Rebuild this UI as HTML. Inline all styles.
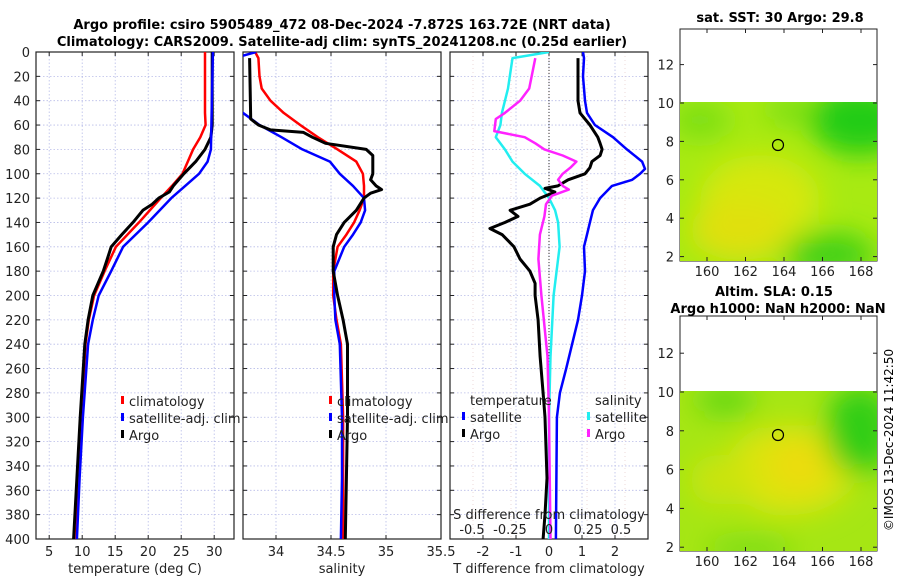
<!DOCTYPE html>
<html><head><meta charset="utf-8"><style>
html,body{margin:0;padding:0;background:#fff;}
svg{display:block;font-family:"DejaVu Sans","Liberation Sans",sans-serif;}
</style></head><body>
<svg id="fig" width="900" height="580" viewBox="0 0 900 580" xmlns="http://www.w3.org/2000/svg">
<defs>
<filter id="blur1" x="-50%" y="-50%" width="200%" height="200%"><feGaussianBlur stdDeviation="14"/></filter>
<clipPath id="clipMap1"><rect x="680" y="102" width="197" height="159"/></clipPath>
<clipPath id="clipMap2"><rect x="680" y="391" width="197" height="160"/></clipPath>
<clipPath id="clipP1"><rect x="36" y="52" width="198" height="487"/></clipPath>
<clipPath id="clipP2"><rect x="243" y="52" width="198" height="487"/></clipPath>
<clipPath id="clipP3"><rect x="450" y="52" width="198" height="487"/></clipPath>
</defs>
<text x="342" y="29" text-anchor="middle" font-size="13" font-weight="bold">Argo profile: csiro 5905489_472 08-Dec-2024 -7.872S 163.72E (NRT data)</text>
<text x="342" y="46" text-anchor="middle" font-size="13" font-weight="bold">Climatology: CARS2009. Satellite-adj clim: synTS_20241208.nc (0.25d earlier)</text>

<g>
<rect x="680" y="29" width="197" height="232" fill="#fff" stroke="#222"/>
<g clip-path="url(#clipMap1)">
<rect x="680" y="102" width="197" height="159" fill="#a8ea12"/>
<g filter="url(#blur1)">
<ellipse cx="760" cy="200" rx="60" ry="45" fill="#d6e80e"/>
<ellipse cx="740" cy="230" rx="50" ry="30" fill="#e0e00c"/>
<ellipse cx="860" cy="120" rx="50" ry="35" fill="#20cc18"/>
<ellipse cx="830" cy="255" rx="45" ry="22" fill="#40d018"/>
<ellipse cx="700" cy="120" rx="30" ry="18" fill="#78de16"/>
<ellipse cx="790" cy="110" rx="25" ry="12" fill="#70dc18"/>
</g>
</g>
<circle cx="778" cy="145" r="5.5" fill="none" stroke="#000" stroke-width="1.2"/>
<text x="780" y="22" text-anchor="middle" font-size="13" font-weight="bold">sat. SST: 30 Argo: 29.8</text>
</g>
<g>
<rect x="680" y="316" width="197" height="235" fill="#fff" stroke="#222"/>
<g clip-path="url(#clipMap2)">
<rect x="680" y="391" width="197" height="160" fill="#a6e614"/>
<g filter="url(#blur1)">
<ellipse cx="790" cy="470" rx="65" ry="45" fill="#dce40c"/>
<ellipse cx="800" cy="465" rx="30" ry="25" fill="#ecdc0a"/>
<ellipse cx="720" cy="480" rx="30" ry="25" fill="#cae410"/>
<ellipse cx="725" cy="400" rx="30" ry="14" fill="#5cd618"/>
<ellipse cx="860" cy="430" rx="35" ry="45" fill="#30ce18"/>
<ellipse cx="750" cy="550" rx="45" ry="10" fill="#70da16"/>
</g>
</g>
<circle cx="778" cy="435" r="5.5" fill="none" stroke="#000" stroke-width="1.2"/>
<text x="715" y="296" font-size="13" font-weight="bold">Altim. SLA: 0.15</text>
<text x="778" y="313" text-anchor="middle" font-size="13" font-weight="bold">Argo h1000: NaN h2000: NaN</text>
</g>
<text transform="translate(893,440) rotate(-90)" text-anchor="middle" font-size="12">©IMOS 13-Dec-2024 11:42:50</text>
<g id="dyn"></g>
</svg>
<script>
const depthTicks = [0,20,40,60,80,100,120,140,160,180,200,220,240,260,280,300,320,340,360,380,400];
const tempTicks = [5,10,15,20,25,30];
const salTicks = [34,34.5,35,35.5];
const tdiffTicks = [-2,-1,0,1,2];
const sdiffTickLabels = ["-0.5","-0.25","0","0.25","0.5"];
const sdiffTicks = [-0.5,-0.25,0,0.25,0.5];

const tClimDepth = [0,50,60,70,80,90,100,110,120,140,160,180,200,220,240,300,350,400];
const tClim = [28.6,28.6,28.7,27.9,26.8,26.0,25.2,23.6,21.9,18.6,15.1,13.4,11.8,11.0,10.5,9.9,9.5,9.1];
const tSatDepth = [0,80,90,100,110,120,140,160,180,200,220,240,300,350,400];
const tSat = [29.8,29.5,29.0,27.7,25.6,23.5,20.0,16.2,14.4,12.5,11.6,10.9,10.1,9.6,9.2];
const tArgoDepth = [0,60,70,80,90,100,110,115,120,125,130,140,150,160,170,180,200,220,240,300,350,400];
const tArgo = [29.7,29.7,29.5,28.6,27.2,25.4,23.8,23.2,21.6,20.6,19.2,17.7,16.0,14.4,13.8,13.2,11.6,10.9,10.4,9.7,9.2,8.7];

const sClimDepth = [0,5,20,30,40,50,60,70,80,90,100,110,120,130,140,150,160,180,200,220,240,300,350,400];
const sClim = [33.81,33.84,33.85,33.87,33.95,34.07,34.22,34.38,34.56,34.73,34.79,34.80,34.80,34.76,34.71,34.64,34.56,34.52,34.52,34.55,34.59,34.61,34.61,34.61];
const sSatDepth = [0,3,10,45,50,60,70,80,90,100,110,120,130,140,150,160,180,200,220,240,300,350,400];
const sSat = [33.82,33.70,33.55,33.62,33.70,33.85,34.05,34.24,34.49,34.58,34.70,34.80,34.81,34.77,34.70,34.62,34.53,34.53,34.54,34.58,34.60,34.60,34.59];
const sArgoDepth = [5,55,60,64,66,70,75,80,85,90,100,105,110,113,116,120,130,140,150,160,180,200,220,240,300,400];
const sArgo = [33.76,33.77,33.84,33.95,34.25,34.33,34.45,34.82,34.88,34.88,34.88,34.86,34.91,34.96,34.86,34.80,34.73,34.62,34.55,34.52,34.52,34.56,34.61,34.65,34.65,34.63];

const dTSatDepth = [0,5,20,40,50,60,70,80,90,96,100,105,110,120,130,140,150,160,180,200,220,240,260,280,300,400];
const dTSat = [1.03,1.06,1.03,1.09,1.15,1.39,1.94,2.36,2.82,2.91,2.76,2.52,1.91,1.55,1.33,1.24,1.15,1.06,1.09,1.0,0.88,0.7,0.52,0.33,0.24,0.21];
const dTArgoDepth = [5,40,50,60,70,75,80,85,90,95,100,105,110,112,115,120,125,130,135,140,145,150,155,160,170,180,190,200,220,250,280,300,350,380,400];
const dTArgo = [0.88,0.88,0.94,1.24,1.48,1.55,1.61,1.55,1.30,1.24,1.09,0.58,0.27,-0.12,0.18,-0.27,-0.58,-1.18,-0.94,-1.33,-1.79,-1.42,-1.24,-1.06,-0.88,-0.58,-0.42,-0.42,-0.33,-0.27,-0.18,-0.12,-0.06,-0.12,-0.18];
const dSSatDepth = [0,5,30,50,60,70,80,90,100,110,120,130,140,160,180,200,250,300,400];
const dSSat = [0,-0.24,-0.27,-0.31,-0.32,-0.35,-0.29,-0.24,-0.16,-0.06,0,0.04,0.06,0.07,0.05,0.03,0.01,0,0];
const dSArgoDepth = [5,30,40,50,55,65,70,75,80,85,90,95,100,105,110,113,118,125,135,150,170,200,250,300,400];
const dSArgo = [-0.09,-0.13,-0.19,-0.29,-0.35,-0.36,-0.16,-0.09,-0.03,0.09,0.18,0.14,0.09,0.06,0.09,0.13,0.02,-0.02,-0.03,-0.06,-0.07,-0.05,-0.01,0,0.01];

const mapLatTicks = [2,4,6,8,10,12];
const mapLonTicks = [160,162,164,166,168];

const NS='http://www.w3.org/2000/svg';
const dyn=document.getElementById('dyn');
function mk(tag,attrs,parent){const e=document.createElementNS(NS,tag);for(const k in attrs)e.setAttribute(k,attrs[k]);(parent||dyn).appendChild(e);return e;}
function txt(x,y,s,size,anchor,parent){const t=mk('text',{x:x,y:y,'font-size':size,'text-anchor':anchor||'middle',fill:'#222'},parent);t.textContent=s;return t;}

const Y0=52,Y1=539;
function yD(d){return Y0+(Y1-Y0)*d/400;}
function lin(d0,d1,r0,r1){return v=>r0+(v-d0)*(r1-r0)/(d1-d0);}
const panels=[
 {x0:36,x1:234,sx:lin(3,33,36,234),ticks:tempTicks,label:'temperature (deg C)',name:'temperature-panel'},
 {x0:243,x1:441,sx:lin(33.7,35.5,243,441),ticks:salTicks,label:'salinity',name:'salinity-panel'},
 {x0:450,x1:648,sx:lin(-3,3,450,648),ticks:tdiffTicks,label:'T difference from climatology',name:'difference-panel'}
];
panels.forEach((p,i)=>{
 const g=mk('g',{});
 
 
 depthTicks.forEach(d=>{mk('line',{x1:p.x0,x2:p.x1,y1:yD(d),y2:yD(d),stroke:'#b8bce8','stroke-width':0.8,'stroke-dasharray':'1.5,2'},g);});
 p.ticks.forEach(v=>{const x=p.sx(v);mk('line',{x1:x,x2:x,y1:Y0,y2:Y1,stroke:'#b8bce8','stroke-width':0.8,'stroke-dasharray':'1.5,2'},g);});
 if(i===2){sdiffTicks.forEach(v=>{const x=549+152*v;mk('line',{x1:x,x2:x,y1:Y0,y2:Y1,stroke:'#e0c0c0','stroke-width':0.6,'stroke-dasharray':'1,3'},g);});}
 depthTicks.forEach(d=>{const y=yD(d);mk('line',{x1:p.x0,x2:p.x0+4,y1:y,y2:y,stroke:'#222'},g);mk('line',{x1:p.x1,x2:p.x1-4,y1:y,y2:y,stroke:'#222'},g);
  if(i===0){const t=txt(30,y+5,String(d),13,'end',g);}});
 p.ticks.forEach(v=>{const x=p.sx(v);mk('line',{x1:x,x2:x,y1:Y1,y2:Y1-4,stroke:'#222'},g);mk('line',{x1:x,x2:x,y1:Y0,y2:Y0+4,stroke:'#222'},g);
  const t=txt(x,556,String(v),13,'middle',g);});
 const xl=txt((p.x0+p.x1)/2,573,p.label,13,'middle',g);
 
 
 mk('rect',{x:p.x0,y:Y0,width:p.x1-p.x0,height:Y1-Y0,fill:'none',stroke:'#222','stroke-width':1.2},g);
});
mk('line',{x1:549,x2:549,y1:Y0,y2:Y1,stroke:'#333','stroke-width':1,'stroke-dasharray':'1,2'});

function series(depths,vals,sx,color,clip,name,w){
 const pts=depths.map((d,k)=>sx(vals[k]).toFixed(1)+','+yD(d).toFixed(1)).join(' ');
 const l=mk('polyline',{points:pts,fill:'none',stroke:color,'stroke-width':w||3,'stroke-linejoin':'round','clip-path':'url(#'+clip+')'});
 
 
}
const P=panels;
series(tClimDepth,tClim,P[0].sx,'#ff0000','clipP1','temp-climatology-line',2.5);
series(tArgoDepth,tArgo,P[0].sx,'#000','clipP1','temp-argo-line',3);
series(tSatDepth,tSat,P[0].sx,'#0000ff','clipP1','temp-satellite-line',2.5);
series(sClimDepth,sClim,P[1].sx,'#ff0000','clipP2','sal-climatology-line',2.5);
series(sSatDepth,sSat,P[1].sx,'#0000ff','clipP2','sal-satellite-line',2.5);
series(sArgoDepth,sArgo,P[1].sx,'#000','clipP2','sal-argo-line',3);
const sS=v=>549+152*v;
series(dSSatDepth,dSSat,sS,'#22eef0','clipP3','sdiff-satellite-line',2.5);
series(dTArgoDepth,dTArgo,P[2].sx,'#000','clipP3','tdiff-argo-line',3);
series(dSArgoDepth,dSArgo,sS,'#ff22ff','clipP3','sdiff-argo-line',2.5);
series(dTSatDepth,dTSat,P[2].sx,'#0000ff','clipP3','tdiff-satellite-line',2.5);

function legend(x,y,color,label){
 const g=mk('g',{});
 
 
 mk('rect',{x:x,y:y-10,width:3,height:8,fill:color},g);
 txt(x+8,y,label,13,'start',g);
}
legend(121,406,'#ff0000','climatology');legend(121,423,'#0000ff','satellite-adj. clim');legend(121,440,'#000','Argo');
legend(329,406,'#ff0000','climatology');legend(329,423,'#0000ff','satellite-adj. clim');legend(329,440,'#000','Argo');
txt(470,405,'temperature',13,'start');
legend(462,422,'#0000ff','satellite');legend(462,439,'#000','Argo');
txt(595,405,'salinity',13,'start');
legend(587,422,'#22eef0','satellite');legend(587,439,'#ff22ff','Argo');
txt(549,519,'S difference from climatology',13,'middle');
const sLabX=[472,510,549,588,621];
sdiffTickLabels.forEach((s,k)=>{const t=txt(sLabX[k],534,s,13,'middle');});

function mapAxes(top,bottom,lat10y,pd){
 mapLatTicks.forEach(v=>{const y=lat10y+(10-v)*pd;if(y<top||y>bottom)return;
  mk('line',{x1:877,x2:873,y1:y,y2:y,stroke:'#222'});mk('line',{x1:680,x2:684,y1:y,y2:y,stroke:'#222'});
  txt(674,y+5,String(v),13,'end');});
 mapLonTicks.forEach(v=>{const x=707+(v-160)*19.25;
  mk('line',{x1:x,x2:x,y1:bottom,y2:bottom-4,stroke:'#222'});mk('line',{x1:x,x2:x,y1:top,y2:top+4,stroke:'#222'});
  txt(x,bottom+15,String(v),13,'middle');});
}
mapAxes(29,261,103,19.2);
mapAxes(316,551,392,19.4);
</script>
</body></html>
